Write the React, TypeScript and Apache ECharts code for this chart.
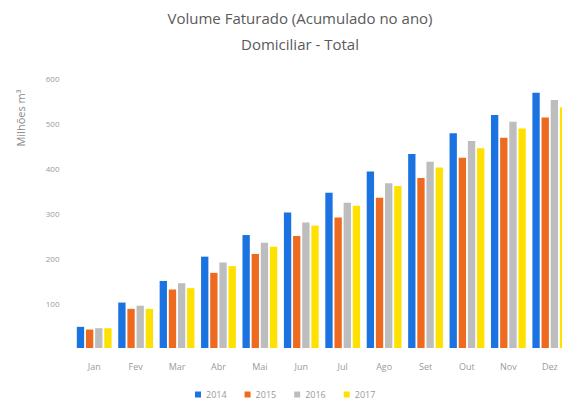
import React, { useEffect, useRef } from "react";
import * as echarts from "echarts";

const months = ["Jan", "Fev", "Mar", "Abr", "Mai", "Jun", "Jul", "Ago", "Set", "Out", "Nov", "Dez"];
const years = ["2014", "2015", "2016", "2017"];
const v2014 = [47, 101, 149, 203, 251, 301, 345, 392, 431, 477, 518, 567];
const v2015 = [41, 87, 130, 167, 209, 249, 290, 334, 378, 423, 467, 512];
const v2016 = [44, 94, 144, 190, 234, 279, 323, 366, 414, 460, 503, 551];
const v2017 = [44, 87, 133, 182, 225, 272, 316, 360, 401, 444, 488, 535];
const colors = ["#1A73E0", "#EE6A1E", "#BDBDBD", "#FFE100"];
const titleLines = ["Volume Faturado (Acumulado no ano)", "Domiciliar - Total"];
const yTitle = "Milhões m³";

export default function App() {
  const ref = useRef<HTMLDivElement>(null);
  useEffect(() => {
    if (!ref.current) return;
    const chart = echarts.init(ref.current, null, { renderer: "svg" });
    const font = "Open Sans, Liberation Sans, sans-serif";
    const data = [v2014, v2015, v2016, v2017];
    chart.setOption({
      animation: false,
      textStyle: { fontFamily: font },
      title: {
        text: titleLines.join("\n"),
        left: 295,
        top: 0,
        textAlign: "center",
        textStyle: { fontSize: 15, fontWeight: "normal", color: "#5a5a5a", lineHeight: 26, fontFamily: font },
      },
      legend: {
        data: years,
        top: 390,
        left: 195,
        padding: 0,
        itemWidth: 6,
        itemHeight: 6,
        itemGap: 18,
        icon: "rect",
        textStyle: { fontSize: 9, color: "#999", fontFamily: font },
      },
      grid: { left: 73.5, right: 9.5, top: 78, bottom: 55, containLabel: false },
      xAxis: {
        type: "category",
        data: months,
        axisLine: { show: false },
        axisTick: { show: false },
        axisLabel: { color: "#9a9a9a", fontSize: 9, margin: 14, fontFamily: font },
      },
      yAxis: {
        type: "value",
        min: 0,
        max: 600,
        interval: 100,
        splitLine: { show: false },
        axisLine: { show: false },
        axisTick: { show: false },
        axisLabel: { color: "#9a9a9a", fontSize: 8, margin: 14, showMinLabel: false, fontFamily: font },
      },
      graphic: [
        {
          type: "text",
          x: 20,
          y: 118,
          rotation: Math.PI / 2,
          style: {
            text: yTitle,
            fontSize: 11,
            fill: "#8a8a8a",
            align: "center",
            verticalAlign: "middle",
            fontFamily: font,
          },
        },
      ],
      series: years.map((y, i) => ({
        name: y,
        type: "bar",
        data: data[i],
        itemStyle: { color: colors[i] },
        barGap: "25%",
        barCategoryGap: "16%",
      })),
    });
    return () => chart.dispose();
  }, []);
  return (
    <div style={{ width: 562, height: 403, position: "absolute", left: 0, top: 0, overflow: "hidden" }}>
      <div ref={ref} style={{ width: 580, height: 403 }} />
    </div>
  );
}
